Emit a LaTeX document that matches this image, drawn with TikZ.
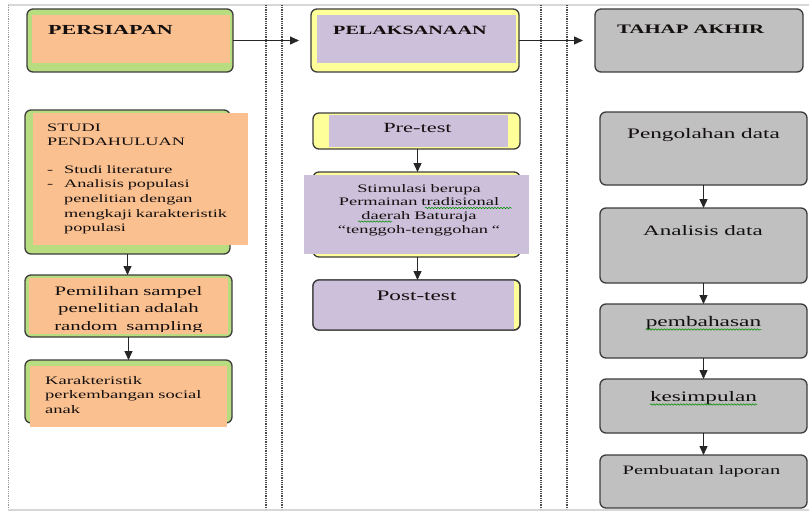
\documentclass[tikz,border=0pt]{standalone}
\usepackage{fontspec}
\setmainfont{Liberation Serif}[FakeStretch=1.6]
\usetikzlibrary{arrows.meta,decorations.pathmorphing}
\definecolor{orangeF}{RGB}{250,192,144}
\definecolor{greenF}{RGB}{184,220,128}
\definecolor{lavF}{RGB}{204,192,218}
\definecolor{yelF}{RGB}{255,255,153}
\definecolor{grayF}{RGB}{192,192,192}
\definecolor{edge}{RGB}{60,60,60}
\definecolor{txt}{RGB}{20,15,15}
\definecolor{frameG}{RGB}{215,215,215}
\begin{document}
\begin{tikzpicture}[x=1pt,y=-1pt,
 box/.style={draw=edge, line width=1.3pt, rounded corners=6pt, anchor=north west, inner sep=0pt, outer sep=0pt},
 lbl/.style={inner sep=0pt, text=txt},
 arr/.style={draw=black!85, line width=1.3pt, -{Triangle[length=9pt,width=8pt]}},
 sep/.style={draw=black!70, line width=1.5pt, dash pattern=on 1pt off 0.8pt},
 squig/.style={draw=green!55!black, line width=0.5pt, decorate, decoration={snake, amplitude=0.7pt, segment length=3pt}}
]
\useasboundingbox (0,0) rectangle (809,511);
% frame
\draw[frameG, line width=2pt] (8,5) -- (809,5);
\draw[frameG, line width=2pt] (8,509.5) -- (809,509.5);
\draw[sep, draw=black!40, line width=1pt] (8,5) -- (8,509);
\draw[sep] (266,5) -- (266,509);
\draw[sep] (282,5) -- (282,509);
\draw[sep] (541,5) -- (541,509);
\draw[sep] (567,5) -- (567,509);

% ---------- headers ----------
\node[box, fill=greenF, minimum width=206pt, minimum height=63pt] (persiapan) at (27,9) {};
\fill[orangeF] (32,15) rectangle (230,63);
\node[box, fill=yelF, minimum width=208pt, minimum height=63pt] (pelaksanaan) at (311,9) {};
\fill[lavF] (317,15) rectangle (516,63);
\node[box, fill=grayF, minimum width=208pt, minimum height=63pt] (tahap) at (595,9) {};

\node[lbl, anchor=west, font=\bfseries\fontsize{13.8}{16}\selectfont] (tpersiapan) at (48,30) {PERSIAPAN};
\node[lbl, anchor=west, font=\bfseries\fontsize{12.6}{16}\selectfont] (tpelaksanaan) at (333,30) {PELAKSANAAN};
\node[lbl, anchor=west, font=\bfseries\fontsize{13}{16}\selectfont] (ttahap) at (617,29) {TAHAP AKHIR};

% ---------- left column ----------
\node[box, fill=greenF, minimum width=205pt, minimum height=144pt] (studi) at (25,110) {};
\fill[orangeF] (33,113) rectangle (248,245);
\node[lbl, anchor=base west, text width=195pt, align=left, font=\fontsize{11.4}{14.5}\selectfont] (tstudi) at (47,131)
 {STUDI\\PENDAHULUAN\\[13.5pt]\makebox[17pt][l]{-}Studi literature\\\makebox[17pt][l]{-}Analisis populasi\\\hspace*{17pt}penelitian dengan\\\hspace*{17pt}mengkaji karakteristik\\\hspace*{17pt}populasi};

\node[box, fill=greenF, minimum width=207pt, minimum height=62pt] (pemilihan) at (25,275) {};
\fill[orangeF] (29,278) rectangle (228,334);
\begin{scope}
\clip (25,275) rectangle (232,331.5);
\node[lbl, anchor=base, text width=205pt, align=center, font=\fontsize{13}{17.5}\selectfont] (tpemilihan) at (128.5,295)
 {Pemilihan sampel\\penelitian adalah\\random\ \ sampling};
\end{scope}

\node[box, fill=greenF, minimum width=207pt, minimum height=63pt] (karakter) at (25,360) {};
\fill[orangeF] (30,366) rectangle (227,427);
\node[lbl, anchor=base west, text width=185pt, align=left, font=\fontsize{11.6}{14.5}\selectfont] (tkarakter) at (45,384)
 {Karakteristik\\perkembangan social\\anak};

% ---------- middle column ----------
\node[box, fill=yelF, minimum width=207pt, minimum height=36pt] (pretest) at (313,113) {};
\fill[lavF] (329,115) rectangle (508,147);
\node[lbl, anchor=base, font=\fontsize{14}{16}\selectfont] (tpretest) at (417.5,132) {Pre-test};

\node[box, fill=yelF, minimum width=207pt, minimum height=85pt] (stimulasi) at (313,172) {};
\fill[lavF] (304,175) rectangle (529,254);
\node[lbl, anchor=base, text width=220pt, align=center, font=\fontsize{11.5}{13.8}\selectfont] (tstimulasi) at (419,192)
 {Stimulasi berupa\\Permainan tradisional\\daerah Baturaja\\“tenggoh-tenggohan “};
\draw[squig] (425,208) -- (512,208);
\draw[squig] (358,221.5) -- (392,221.5);

\node[box, fill=yelF, minimum width=207pt, minimum height=50pt] (posttest) at (313,280) {};
\begin{scope}
\clip[rounded corners=6pt] (313,280) rectangle (520,330);
\fill[lavF] (313,280) rectangle (514,330);
\end{scope}
\draw[edge, line width=1.3pt, rounded corners=6pt] (313,280) rectangle (520,330);
\node[lbl, anchor=base, font=\fontsize{14.5}{16}\selectfont] (tposttest) at (416.5,300) {Post-test};

% ---------- right column ----------
\node[box, fill=grayF, minimum width=207pt, minimum height=73pt] (olah) at (600,112) {};
\node[box, fill=grayF, minimum width=207pt, minimum height=75pt] (analisis) at (600,208) {};
\node[box, fill=grayF, minimum width=207pt, minimum height=54pt] (bahas) at (600,304) {};
\node[box, fill=grayF, minimum width=207pt, minimum height=54pt] (simpul) at (600,379) {};
\node[box, fill=grayF, minimum width=207pt, minimum height=53pt] (lapor) at (600,455) {};

\node[lbl, anchor=base, font=\fontsize{14.5}{16}\selectfont] (tolah) at (703.5,138) {Pengolahan data};
\node[lbl, anchor=base, font=\fontsize{14.4}{16}\selectfont] (tanalisis) at (703,235) {Analisis data};
\node[lbl, anchor=base, font=\fontsize{14.6}{16}\selectfont] (tbahas) at (703.5,326) {pembahasan};
\node[lbl, anchor=base, font=\fontsize{14.5}{16}\selectfont] (tsimpul) at (703.5,401) {kesimpulan};
\node[lbl, anchor=base, font=\fontsize{12.8}{16}\selectfont] (tlapor) at (701.5,474) {Pembuatan laporan};
\draw[squig] ([yshift=-3.5pt]tbahas.base west) -- ([yshift=-3.5pt]tbahas.base east);
\draw[squig] ([yshift=-3.5pt]tsimpul.base west) -- ([yshift=-3.5pt]tsimpul.base east);

% ---------- connectors ----------
\draw[arr, shorten >=12pt] (persiapan.east) -- (pelaksanaan.west);
\draw[arr, shorten >=12pt] (pelaksanaan.east) -- (tahap.west);

\draw[arr] (studi.south) -- (studi.south |- pemilihan.north);
\draw[arr] (pemilihan.south) -- (pemilihan.south |- karakter.north);

\draw[arr] ([xshift=1pt]pretest.south) -- ([xshift=1pt]pretest.south |- stimulasi.north);
\draw[arr] ([xshift=1pt]stimulasi.south) -- ([xshift=1pt]stimulasi.south |- posttest.north);

\draw[arr] (olah.south) -- (analisis.north);
\draw[arr] (analisis.south) -- (bahas.north);
\draw[arr] (bahas.south) -- (simpul.north);
\draw[arr] (simpul.south) -- (lapor.north);
\end{tikzpicture}
\end{document}
